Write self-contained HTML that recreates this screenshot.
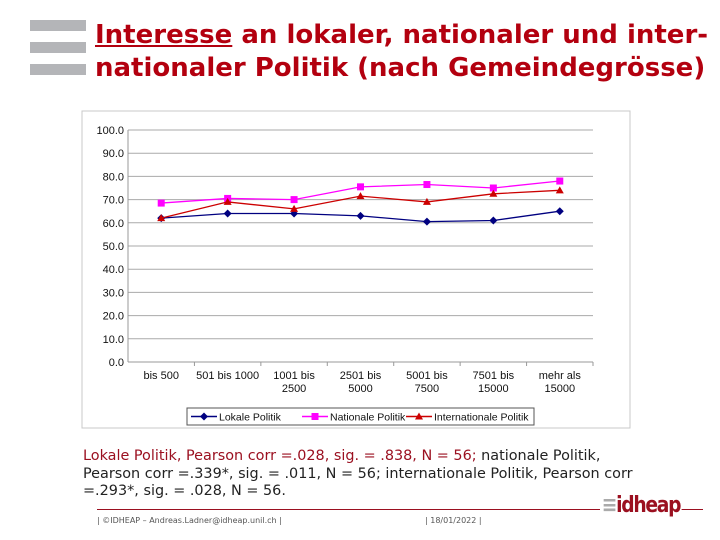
<!DOCTYPE html>
<html><head><meta charset="utf-8"><style>
body{margin:0;width:720px;height:540px;background:#fff;position:relative;overflow:hidden;font-family:"DejaVu Sans","Liberation Sans",sans-serif}
.bar{position:absolute;left:30px;width:56px;height:11px;background:#b4b5b8}
#title{position:absolute;left:95px;top:19px;color:#b3000f;font-weight:bold;font-size:26px;line-height:33px;white-space:nowrap}
#note{position:absolute;left:83px;top:448px;font-size:14.4px;line-height:17.5px;color:#222;white-space:nowrap}
</style></head><body>
<div class="bar" style="top:20px"></div>
<div class="bar" style="top:42px"></div>
<div class="bar" style="top:64px"></div>
<div id="title"><u>Interesse</u> an lokaler, nationaler und inter-<br>nationaler Politik (nach Gemeindegrösse)</div>
<svg id="chart" width="720" height="540" style="position:absolute;left:0;top:0"></svg>
<div id="note"><span style="color:#9b1020">Lokale Politik, Pearson corr =.028, sig. = .838, N = 56;</span> nationale Politik,<br>Pearson corr =.339*, sig. = .011, N = 56; internationale Politik, Pearson corr<br>=.293*, sig. = .028, N = 56.</div>
<div style="position:absolute;left:97px;top:509px;width:606px;height:1px;background:#9b1020"></div>
<div style="position:absolute;left:97px;top:516px;font-size:8px;color:#555">| ©IDHEAP – Andreas.Ladner@idheap.unil.ch |</div>
<div style="position:absolute;left:425px;top:516px;font-size:8px;color:#555">| 18/01/2022 |</div>
<div style="position:absolute;left:600px;top:493px;font-size:22px;font-weight:bold;color:#9b1020;background:#fff;padding:0 2px;letter-spacing:-1.5px;transform:scaleX(0.85);transform-origin:left"><span style="color:#aaa">≡</span>idheap</div>
<script>
const categories=[["bis 500"],["501 bis 1000"],["1001 bis","2500"],["2501 bis","5000"],["5001 bis","7500"],["7501 bis","15000"],["mehr als","15000"]];
const lokale=[62,64,64,63,60.5,61,65];
const nationale=[68.5,70.5,70,75.5,76.5,75,78];
const internationale=[62,69,66,71.5,69,72.5,74];
const yTicks=[0,10,20,30,40,50,60,70,80,90,100];
const svg=document.getElementById('chart');const NS='http://www.w3.org/2000/svg';
function mk(t,a,p){const e=document.createElementNS(NS,t);for(const k in a)e.setAttribute(k,a[k]);(p||svg).appendChild(e);return e;}
const L=128,R=593,T=130,B=362;
const y=v=>B-(v/100)*(B-T);
const x=i=>L+(i+0.5)*(R-L)/categories.length;
let e=mk('rect',{x:82,y:111,width:548,height:317,fill:'#fff',stroke:'#c8c8c8'});


yTicks.forEach(v=>{
 e=mk('line',{x1:L,x2:R,y1:y(v),y2:y(v),stroke:v===0?'#999':'#aaa','stroke-width':1});
 
 
 e=mk('text',{x:124,y:y(v)+4,'text-anchor':'end','font-size':11,fill:'#111','font-family':'Liberation Sans, sans-serif'});e.textContent=v.toFixed(1);
 
 
});
e=mk('line',{x1:L,x2:L,y1:T,y2:B,stroke:'#999'});


categories.forEach((c,i)=>{
 const tx=L+(i+1)*(R-L)/categories.length;
 e=mk('line',{x1:tx,x2:tx,y1:B,y2:B+4,stroke:'#999'});
 
 
 c.forEach((s,j)=>{e=mk('text',{x:x(i),y:B+17+j*13,'text-anchor':'middle','font-size':11,fill:'#111','font-family':'Liberation Sans, sans-serif'});e.textContent=s;
 
 });
});
function series(vals,color,shape,name){
 e=mk('polyline',{points:vals.map((v,i)=>x(i)+','+y(v)).join(' '),fill:'none',stroke:color,'stroke-width':1.3});
 
 
 vals.forEach((v,i)=>{marker(x(i),y(v),color,shape,name);});
}
function marker(cx,cy,color,shape,name){
 if(shape==='d')e=mk('polygon',{points:`${cx},${cy-4} ${cx+4},${cy} ${cx},${cy+4} ${cx-4},${cy}`,fill:color});
 else if(shape==='s')e=mk('rect',{x:cx-3.5,y:cy-3.5,width:7,height:7,fill:color});
 else e=mk('polygon',{points:`${cx},${cy-4} ${cx+4},${cy+3} ${cx-4},${cy+3}`,fill:color});
 
 
}
series(lokale,'#000080','d','lokale');
series(nationale,'#ff00ff','s','nationale');
series(internationale,'#cc0000','t','internationale');
e=mk('rect',{x:187,y:408,width:347,height:17,fill:'#fff',stroke:'#555'});


[['Lokale Politik','#000080','d',191],['Nationale Politik','#ff00ff','s',302],['Internationale Politik','#cc0000','t',406]].forEach(([t,c,s,lx])=>{
 e=mk('line',{x1:lx,x2:lx+26,y1:416.5,y2:416.5,stroke:c,'stroke-width':1.5});
 
 
 marker(lx+13,416.5,c,s,'legend');
 e=mk('text',{x:lx+28,y:420.5,'font-size':10.5,fill:'#111','font-family':'Liberation Sans, sans-serif'});e.textContent=t;
 
 
});
</script>
</body></html>
